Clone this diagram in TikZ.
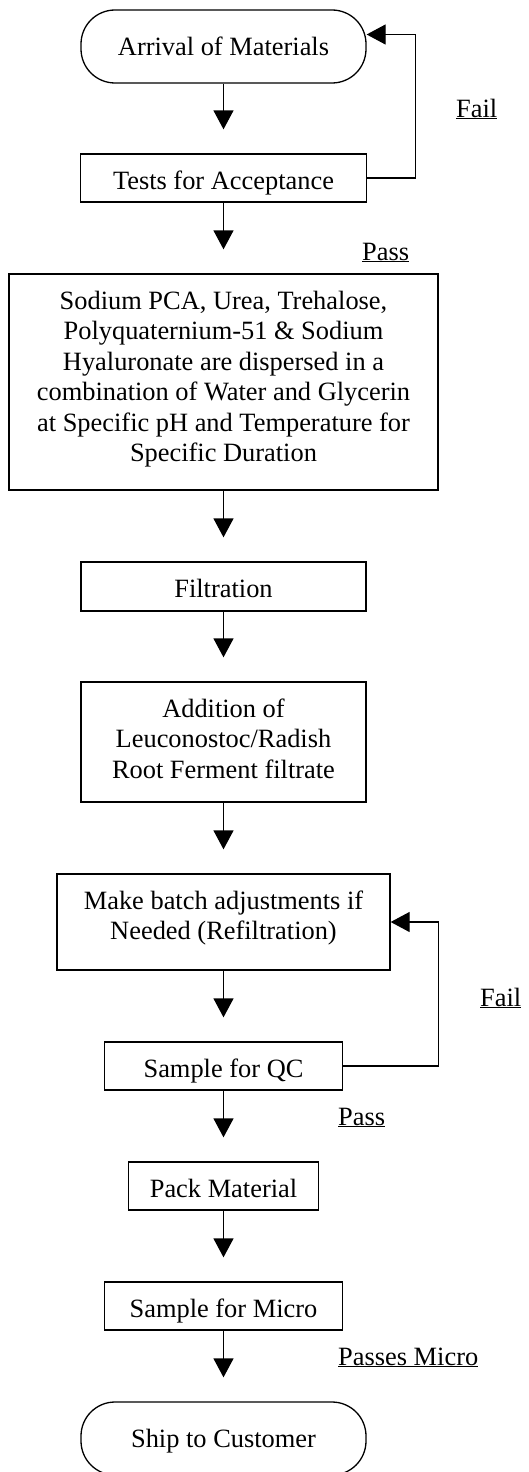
\documentclass[tikz,border=0pt]{standalone}
\usepackage{fontspec}
\setmainfont{Liberation Serif}
\usetikzlibrary{arrows.meta}
\newcommand{\boxtext}[3]{\parbox[c][#2][t]{#1}{\centering\rule{0pt}{35.5pt}#3}}
\begin{document}
\begin{tikzpicture}[x=1pt, y=-1pt,
  every node/.style={font=\fontsize{26.4}{30.4}\selectfont},
  stepbox/.style={draw, rectangle, line width=1.3pt, inner sep=0pt},
  endbox/.style={draw, rectangle, rounded corners=34pt, line width=1.3pt,
    minimum width=285pt, minimum height=73pt, inner sep=0pt,
    text height=17.5pt, text depth=0pt},
  flow/.style={-{Triangle[length=19pt, width=20pt]}, line width=1.3pt},
  note/.style={anchor=base west, inner sep=0pt}]
\useasboundingbox (0,0) rectangle (528,1472);
\node [endbox] (arrival) at (223.5,46.5) {Arrival of Materials};
\node [stepbox] (tests) at (223.5,178) {\boxtext{286pt}{48pt}{Tests for Acceptance}};
\node [stepbox] (mix) at (223.5,382) {\boxtext{429pt}{216pt}{Sodium PCA, Urea, Trehalose,\\
  Polyquaternium-51 \& Sodium\\ Hyaluronate are dispersed in a\\
  combination of Water and Glycerin\\ at Specific pH and Temperature for\\
  Specific Duration}};
\node [stepbox] (filt) at (223.5,586.5) {\boxtext{285pt}{49pt}{Filtration}};
\node [stepbox] (add) at (223.5,742) {\boxtext{285pt}{120pt}{Addition of\\
  Leuconostoc/Radish\\ Root Ferment filtrate}};
\node [stepbox] (adjust) at (223.5,922) {\boxtext{333pt}{96pt}{Make batch adjustments if\\
  Needed (Refiltration)}};
\node [stepbox] (qc) at (223.5,1066) {\boxtext{238pt}{48pt}{Sample for QC}};
\node [stepbox] (pack) at (223.5,1186) {\boxtext{190pt}{48pt}{Pack Material}};
\node [stepbox] (micro) at (223.5,1306) {\boxtext{238pt}{48pt}{Sample for Micro}};
\node [endbox] (ship) at (223.5,1438.5) {Ship to Customer};
% labels
\node [note] (fail1) at (456,117) {\underline{Fail}};
\node [note] (pass1) at (362,260) {\underline{Pass}};
\node [note] (fail2) at (480,1006) {\underline{Fail}};
\node [note] (pass2) at (338,1125) {\underline{Pass}};
\node [note] (passmicro) at (338,1365) {\underline{Passes Micro}};
% arrows
\draw [flow, shorten >=24pt] (arrival) -- (tests);
\draw [flow, shorten >=24pt] (tests) -- (mix);
\draw [flow, shorten >=24pt] (mix) -- (filt);
\draw [flow, shorten >=24pt] (filt) -- (add);
\draw [flow, shorten >=24pt] (add) -- (adjust);
\draw [flow, shorten >=24pt] (adjust) -- (qc);
\draw [flow, shorten >=24pt] (qc) -- (pack);
\draw [flow, shorten >=24pt] (pack) -- (micro);
\draw [flow, shorten >=24pt] (micro) -- (ship);
\draw [flow] (tests.east) -- ++(48,0) |- ([yshift=12pt]arrival.east);
\draw [flow] (qc.east) -- ++(95,0) |- (adjust.east);
\end{tikzpicture}
\end{document}
